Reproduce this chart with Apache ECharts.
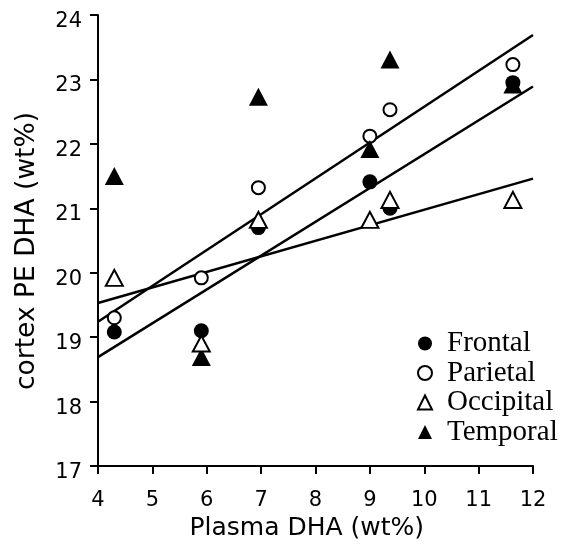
<!DOCTYPE html>
<html>
<head>
<meta charset="utf-8">
<script src="https://cdn.jsdelivr.net/npm/echarts@6/dist/echarts.min.js"></script>
<style>
html,body{margin:0;padding:0;background:#fff;}
#chart{width:564px;height:548px;}
</style>
</head>
<body>
<div id="chart"></div>
<script>
// Plasma DHA (wt%) for each animal group
const plasmaDHA = [4.3, 5.9, 6.95, 9.0, 9.37, 11.63];
// cortex PE DHA (wt%) per region
const frontal   = [19.08, 19.10, 20.70, 21.41, 21.00, 22.95];
const parietal  = [19.30, 19.92, 21.32, 22.12, 22.53, 23.23];
const occipital = [19.92, 18.90, 20.82, 20.82, 21.13, 21.13];
const temporal  = [21.50, 18.69, 22.73, 21.92, 23.31, 22.92];
// regression line endpoints (x, y)
const fitX  = [4, 12];
const fitA  = [19.24, 23.69];
const fitB  = [18.69, 22.89];
const fitC  = [19.53, 21.46];
const regionNames = ['Frontal', 'Parietal', 'Occipital', 'Temporal'];
const xTicks = [4, 12, 1];
const yTicks = [17, 24, 1];

const pairs = (xs, ys) => xs.map((x, i) => [x, ys[i]]);

const chart = echarts.init(document.getElementById('chart'), null, {renderer: 'canvas'});

const axisCommon = {
  axisLine: {show: true, onZero: false, lineStyle: {color: '#000', width: 2}},
  axisTick: {show: true, inside: false, length: 8, lineStyle: {color: '#000', width: 2}},
  splitLine: {show: false},
  axisLabel: {color: '#000', fontFamily: 'DejaVu Sans', fontSize: 21}
};

const lineSeries = (name, ys) => ({
  name: name, type: 'line', data: pairs(fitX, ys), showSymbol: false, silent: true,
  lineStyle: {color: '#000', width: 2.5}, z: 1, animation: false
});

const option = {
  animation: false,
  backgroundColor: '#fff',
  grid: {left: 98, right: 31, top: 15, bottom: 82, containLabel: false},
  xAxis: Object.assign({}, axisCommon, {
    type: 'value', min: xTicks[0], max: xTicks[1], interval: xTicks[2],
    axisLabel: Object.assign({}, axisCommon.axisLabel, {margin: 24})
  }),
  yAxis: Object.assign({}, axisCommon, {
    type: 'value', min: yTicks[0], max: yTicks[1], interval: yTicks[2],
    axisLabel: Object.assign({}, axisCommon.axisLabel, {margin: 16, verticalAlign: 'top', lineHeight: 13})
  }),
  legend: {
    data: regionNames,
    orient: 'vertical',
    left: 417, top: 329, padding: 0, itemGap: 0.5,
    itemWidth: 14, itemHeight: 14,
    textStyle: {fontFamily: 'Liberation Serif', fontSize: 29, color: '#000', lineHeight: 28, padding: [0, 0, 0, 10]},
    selectedMode: false
  },
  graphic: [
    {type: 'text', left: 306.5 - 117, top: 516,
     style: {text: 'Plasma DHA (wt%)', fontFamily: 'DejaVu Sans', fontSize: 25, fill: '#000'}},
    {type: 'text', x: 27, y: 251, rotation: Math.PI / 2,
     style: {text: 'cortex PE DHA (wt%)', fontFamily: 'DejaVu Sans', fontSize: 26.5, fill: '#000', align: 'center', verticalAlign: 'middle'}}
  ],
  series: [
    lineSeries('fitA', fitA),
    lineSeries('fitB', fitB),
    lineSeries('fitC', fitC),
    {name: 'Frontal', type: 'scatter', data: pairs(plasmaDHA, frontal), symbol: 'circle', symbolSize: 15,
     itemStyle: {color: '#000', opacity: 1}, z: 3},
    {name: 'Parietal', type: 'scatter', data: pairs(plasmaDHA, parietal), symbol: 'circle', symbolSize: 13,
     itemStyle: {color: '#fff', borderColor: '#000', borderWidth: 2, opacity: 1}, z: 4},
    {name: 'Occipital', type: 'scatter', data: pairs(plasmaDHA, occipital), symbol: 'triangle', symbolSize: [17, 16],
     itemStyle: {color: '#fff', borderColor: '#000', borderWidth: 2, opacity: 1}, z: 5},
    {name: 'Temporal', type: 'scatter', data: pairs(plasmaDHA, temporal), symbol: 'triangle', symbolSize: [19, 18],
     itemStyle: {color: '#000', opacity: 1}, z: 4}
  ]
};
chart.setOption(option);
</script>
</body>
</html>
